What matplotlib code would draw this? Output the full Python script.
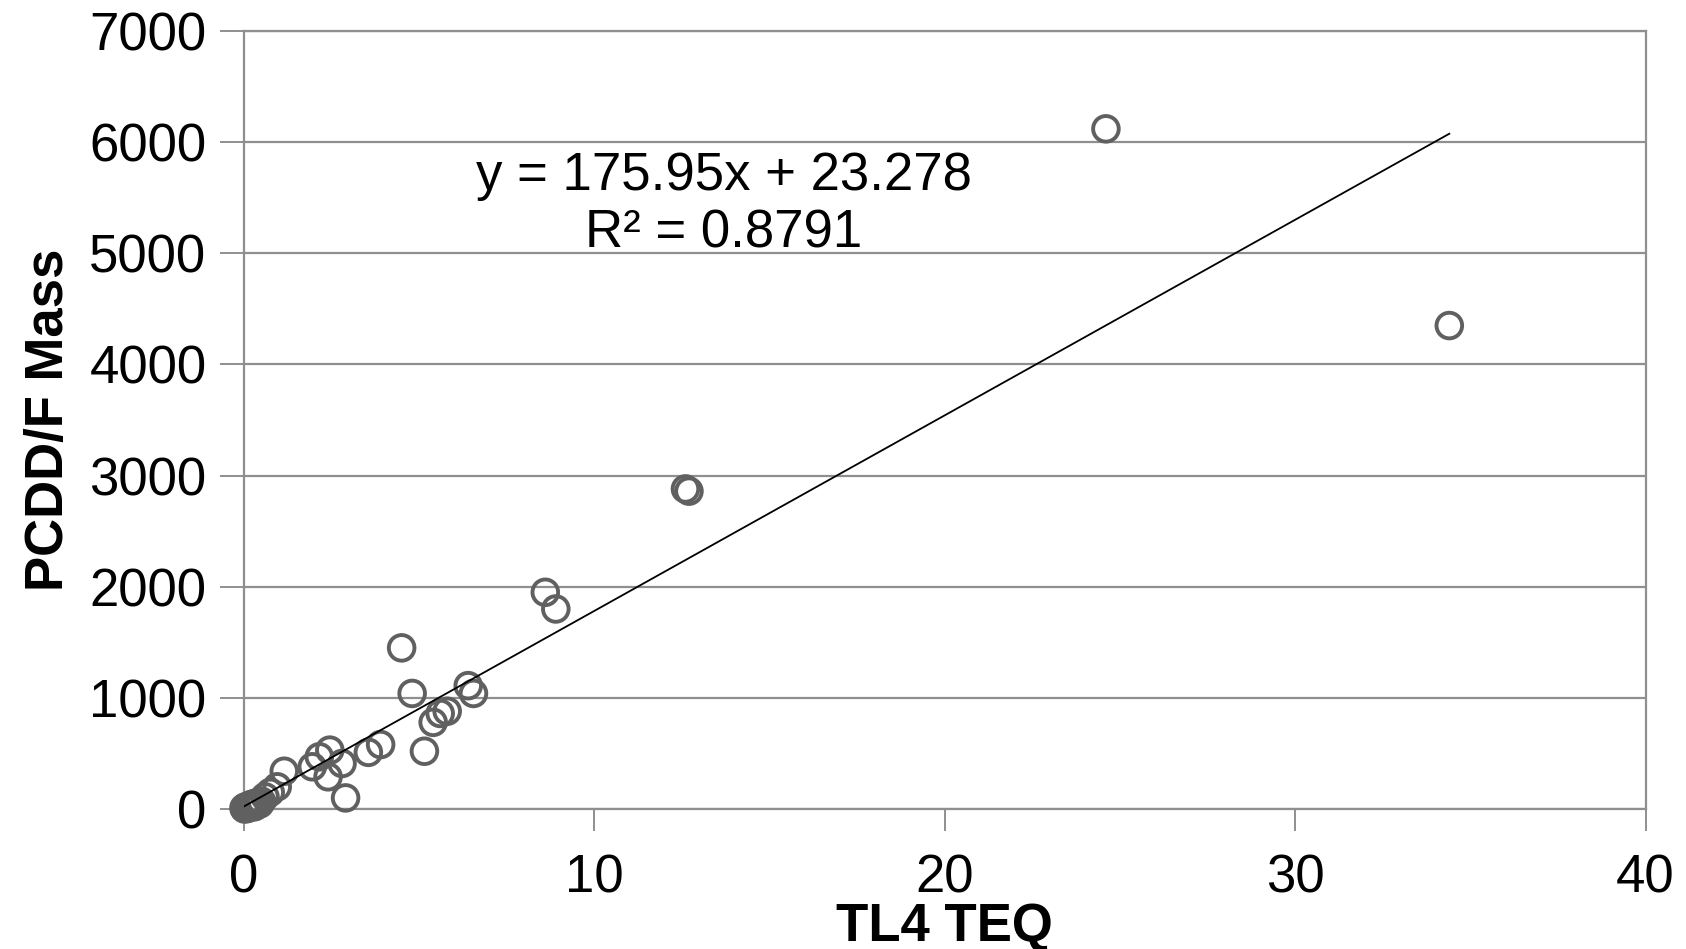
import numpy as np
import matplotlib.pyplot as plt

plt.rcParams['font.family'] = ['Liberation Sans', 'DejaVu Sans']

# TL4 TEQ vs PCDD/F Mass
teq = [24.6, 34.4, 12.6, 12.7, 8.6, 8.9, 4.5, 4.8, 6.4, 6.55,
       5.4, 5.6, 5.8, 5.15, 3.9, 3.55, 2.9, 2.8, 2.45, 2.4,
       2.15, 1.95, 1.15, 0.95, 0.75, 0.6,
       0.0, 0.05, 0.1, 0.15, 0.2, 0.25, 0.3, 0.35, 0.4, 0.45,
       0.5, 0.02, 0.08, 0.12, 0.3]
masa = [6120, 4350, 2880, 2860, 1950, 1800, 1450, 1040, 1110, 1040,
        780, 860, 880, 520, 580, 510, 100, 410, 530, 290,
        470, 380, 340, 200, 150, 110,
        10, 20, 5, 30, 40, 25, 50, 35, 60, 45,
        70, 0, 15, 10, 20]

pendiente = 175.95
intercepto = 23.278
r2 = 0.8791

fig = plt.figure(figsize=(16.86, 9.49), dpi=100)
ax = fig.add_axes([0.1447, 0.1475, 0.8313, 0.8198])

ax.set_axisbelow(True)
ax.grid(axis='y', color='#8f8f8f', linewidth=1.6)
ax.scatter(teq, masa, s=340, facecolors='none', edgecolors='#606060',
           linewidths=2.8, zorder=3, clip_on=False)

# linea de tendencia
xs = np.array([min(teq), max(teq)])
ax.plot(xs, pendiente * xs + intercepto, color='black', linewidth=1.3, zorder=4)

ax.text(13.7, 5440, 'y = 175.95x + 23.278\nR² = 0.8791', fontsize=38,
        ha='center', va='center', multialignment='center', linespacing=1.2,
        zorder=5)

ax.set_xlim(0, 40)
ax.set_ylim(0, 7000)
ax.set_xticks([0, 10, 20, 30, 40])
ax.set_yticks(range(0, 7001, 1000))

for s in ax.spines.values():
    s.set_color('#8f8f8f')
    s.set_linewidth(1.6)

ax.tick_params(axis='both', colors='#8f8f8f', width=1.4, labelcolor='black',
               labelsize=38)
ax.tick_params(axis='y', length=17, pad=10)
ax.tick_params(axis='x', length=16, pad=16)

ax.set_xlabel('TL4 TEQ', fontsize=38, fontweight='bold', labelpad=-1)
ax.set_ylabel('PCDD/F Mass', fontsize=38, fontweight='bold', labelpad=11)

plt.savefig('out.png', dpi=100)
